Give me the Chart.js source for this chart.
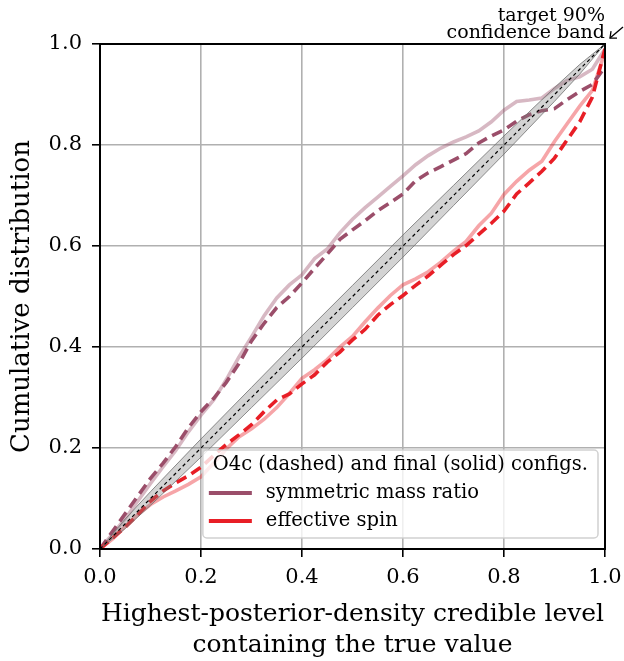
<!DOCTYPE html>
<html>
<head>
<meta charset="utf-8">
<script src="https://cdn.jsdelivr.net/npm/chart.js@4.4.1/dist/chart.umd.min.js"></script>
<style>
html,body{margin:0;padding:0;background:#ffffff;}
#wrap{width:624px;height:661px;position:relative;}
</style>
</head>
<body>
<div id="wrap"><canvas id="c" width="624" height="661"></canvas></div>
<script>
// ---------- data ----------
const credibleLevel = [0, 0.025, 0.05, 0.075, 0.1, 0.125, 0.15, 0.175, 0.2, 0.225,
  0.25, 0.275, 0.3, 0.325, 0.35, 0.375, 0.4, 0.425, 0.45, 0.475,
  0.5, 0.525, 0.55, 0.575, 0.6, 0.625, 0.65, 0.675, 0.7, 0.725,
  0.75, 0.775, 0.8, 0.825, 0.85, 0.875, 0.9, 0.925, 0.95, 0.975, 1.0];

// symmetric mass ratio, O4c config (dashed)
const etaO4c = [0, 0.035, 0.07, 0.105, 0.14, 0.17, 0.203, 0.24, 0.272, 0.298,
  0.33, 0.367, 0.412, 0.447, 0.478, 0.5, 0.527, 0.556, 0.584, 0.613,
  0.632, 0.65, 0.67, 0.686, 0.703, 0.729, 0.745, 0.757, 0.77, 0.783,
  0.804, 0.818, 0.83, 0.847, 0.86, 0.868, 0.872, 0.89, 0.906, 0.92, 0.955];

// symmetric mass ratio, final config (solid)
const etaFinal = [0, 0.03, 0.06, 0.095, 0.13, 0.163, 0.195, 0.232, 0.265, 0.295,
  0.335, 0.38, 0.42, 0.462, 0.497, 0.523, 0.543, 0.575, 0.594, 0.626,
  0.653, 0.676, 0.697, 0.718, 0.739, 0.761, 0.779, 0.794, 0.806, 0.816,
  0.828, 0.846, 0.869, 0.886, 0.889, 0.893, 0.912, 0.928, 0.935, 0.95, 0.99];

// effective spin, O4c config (dashed)
const chiO4c = [0, 0.022, 0.043, 0.068, 0.095, 0.115, 0.131, 0.145, 0.162, 0.185,
  0.207, 0.226, 0.246, 0.272, 0.295, 0.307, 0.327, 0.345, 0.37, 0.39,
  0.414, 0.435, 0.463, 0.484, 0.502, 0.522, 0.541, 0.562, 0.583, 0.601,
  0.623, 0.645, 0.669, 0.703, 0.725, 0.748, 0.774, 0.81, 0.846, 0.895, 0.99];

// effective spin, final config (solid)
const chiFinal = [0, 0.02, 0.045, 0.068, 0.088, 0.103, 0.115, 0.128, 0.143, 0.17,
  0.198, 0.222, 0.238, 0.257, 0.28, 0.308, 0.338, 0.355, 0.375, 0.4,
  0.421, 0.45, 0.477, 0.502, 0.523, 0.535, 0.549, 0.568, 0.59, 0.609,
  0.64, 0.665, 0.702, 0.728, 0.75, 0.768, 0.807, 0.842, 0.877, 0.908, 0.985];

// target 90% confidence band
const bandLevel = [0, 0.05, 0.1, 0.2, 0.3, 0.4, 0.5, 0.6, 0.7, 0.8, 0.9, 0.95, 1];
const bandLower = [0, 0.0405, 0.0865, 0.182, 0.280, 0.378, 0.478, 0.578, 0.680, 0.782, 0.8865, 0.9405, 1];
const bandUpper = [0, 0.0595, 0.1135, 0.218, 0.320, 0.422, 0.522, 0.622, 0.720, 0.818, 0.9135, 0.9595, 1];

// diagonal
const diagLevel = [0, 1];
const diagValue = [0, 1];

const tickValues = [0, 0.2, 0.4, 0.6, 0.8, 1.0];
const tickLabels = ['0.0', '0.2', '0.4', '0.6', '0.8', '1.0'];

const xTitle = ['Highest-posterior-density credible level', 'containing the true value'];
const yTitle = 'Cumulative distribution';
const legendTitle = 'O4c (dashed) and final (solid) configs.';
const legendNames = ['symmetric mass ratio', 'effective spin'];
const annotationLines = ['target 90%', 'confidence band'];

// ---------- styling ----------
const FONT = '"DejaVu Serif", "Liberation Serif", serif';
const etaColor = 'rgb(155,78,106)';
const etaLight = 'rgba(155,78,106,0.4)';
const chiColor = 'rgb(232,30,38)';
const chiLight = 'rgba(232,30,38,0.4)';

function pts(xs, ys) { return xs.map((x, i) => ({x: x, y: ys[i]})); }

const frameAndAnnotation = {
  id: 'frameAndAnnotation',
  afterDatasetsDraw(chart) {
    const {ctx, chartArea: a} = chart;
    ctx.save();
    ctx.strokeStyle = '#000';
    ctx.lineWidth = 2;
    ctx.strokeRect(a.left, a.top, a.right - a.left, a.bottom - a.top);
    ctx.restore();
  },
  afterDraw(chart) {
    const {ctx, chartArea: a} = chart;
    ctx.save();
    // annotation text
    ctx.font = '19px ' + FONT;
    ctx.fillStyle = '#000';
    ctx.textAlign = 'right';
    ctx.textBaseline = 'alphabetic';
    ctx.fillText(annotationLines[0], a.right, a.top - 23);
    ctx.fillText(annotationLines[1], a.right, a.top - 6);
    // arrow
    const tx = a.right + 18, ty = a.top - 17, hx = a.right + 5, hy = a.top - 6;
    ctx.strokeStyle = '#000';
    ctx.lineWidth = 1.3;
    ctx.beginPath(); ctx.moveTo(tx, ty); ctx.lineTo(hx, hy); ctx.stroke();
    const ang = Math.atan2(ty - hy, tx - hx);
    const L = 7, spread = 0.72;
    ctx.beginPath();
    ctx.moveTo(hx + L * Math.cos(ang + spread), hy + L * Math.sin(ang + spread));
    ctx.lineTo(hx, hy);
    ctx.lineTo(hx + L * Math.cos(ang - spread), hy + L * Math.sin(ang - spread));
    ctx.stroke();

    // legend (inside, lower right)
    ctx.font = '19.5px ' + FONT;
    const titleW = ctx.measureText(legendTitle).width;
    const w = titleW + 20, h = 88;
    const x0 = a.right - 7 - w, y0 = a.bottom - 11 - h;
    ctx.beginPath();
    if (ctx.roundRect) ctx.roundRect(x0, y0, w, h, 4); else ctx.rect(x0, y0, w, h);
    ctx.fillStyle = 'rgba(255,255,255,0.8)';
    ctx.fill();
    ctx.strokeStyle = 'rgba(204,204,204,0.9)';
    ctx.lineWidth = 1.5;
    ctx.stroke();
    ctx.fillStyle = '#000';
    ctx.textBaseline = 'middle';
    ctx.textAlign = 'center';
    ctx.fillText(legendTitle, x0 + w / 2, y0 + 15);
    const cols = [etaColor, chiColor];
    ctx.textAlign = 'left';
    for (let i = 0; i < 2; i++) {
      const yy = y0 + 43 + i * 28;
      ctx.strokeStyle = cols[i];
      ctx.lineWidth = 4;
      ctx.beginPath(); ctx.moveTo(x0 + 6, yy); ctx.lineTo(x0 + 49, yy); ctx.stroke();
      ctx.fillText(legendNames[i], x0 + 63, yy);
    }
    ctx.restore();
  }
};

const lineBase = {pointRadius: 0, pointHoverRadius: 0, tension: 0, fill: false, borderWidth: 3.6};

new Chart(document.getElementById('c'), {
  type: 'line',
  data: {
    datasets: [
      Object.assign({}, lineBase, {label: 'eta final', data: pts(credibleLevel, etaFinal), borderColor: etaLight, order: 13}),
      Object.assign({}, lineBase, {label: 'chi final', data: pts(credibleLevel, chiFinal), borderColor: chiLight, order: 12}),
      Object.assign({}, lineBase, {label: 'eta O4c', data: pts(credibleLevel, etaO4c), borderColor: etaColor, borderDash: [11, 6], order: 11}),
      Object.assign({}, lineBase, {label: 'chi O4c', data: pts(credibleLevel, chiO4c), borderColor: chiColor, borderDash: [11, 6], order: 10}),
      {label: 'band lower', data: pts(bandLevel, bandLower), borderColor: 'rgba(110,110,110,0.8)', borderWidth: 1, pointRadius: 0, tension: 0, fill: false, order: 3},
      {label: 'band upper', data: pts(bandLevel, bandUpper), borderColor: 'rgba(110,110,110,0.8)', borderWidth: 1, pointRadius: 0, tension: 0,
        fill: {target: 4}, backgroundColor: 'rgba(128,128,128,0.35)', order: 2},
      {label: 'diagonal', data: pts(diagLevel, diagValue), borderColor: '#000', borderWidth: 1.2, borderDash: [3.5, 3], pointRadius: 0, tension: 0, fill: false, order: 1}
    ]
  },
  options: {
    responsive: false,
    animation: false,
    events: [],
    layout: {padding: {top: 44, right: 19, bottom: 0, left: 0}},
    plugins: {legend: {display: false}, tooltip: {enabled: false}, title: {display: false}},
    scales: {
      x: {
        type: 'linear', min: 0, max: 1,
        afterFit: (s) => { s.height = 112; s.paddingLeft = 0; s.paddingRight = 0; },
        afterBuildTicks: (s) => { s.ticks = tickValues.map(v => ({value: v})); },
        ticks: {font: {family: FONT, size: 21}, color: '#000', padding: 8,
          callback: (v) => tickLabels[tickValues.findIndex(t => Math.abs(t - v) < 1e-9)], maxRotation: 0},
        grid: {color: '#b0b0b0', lineWidth: 1.6, tickColor: '#000', tickLength: 8, tickWidth: 1.6},
        border: {display: true, color: '#000', width: 2},
        title: {display: true, text: xTitle, color: '#000', font: {family: FONT, size: 25, lineHeight: '31px'}, padding: {top: 0, bottom: 0}}
      },
      y: {
        type: 'linear', min: 0, max: 1,
        afterFit: (s) => { s.width = 100; s.paddingTop = 0; s.paddingBottom = 0; },
        afterBuildTicks: (s) => { s.ticks = tickValues.map(v => ({value: v})); },
        ticks: {font: {family: FONT, size: 21}, color: '#000', padding: 10,
          callback: (v) => tickLabels[tickValues.findIndex(t => Math.abs(t - v) < 1e-9)]},
        grid: {color: '#b0b0b0', lineWidth: 1.6, tickColor: '#000', tickLength: 8, tickWidth: 1.6},
        border: {display: true, color: '#000', width: 2},
        title: {display: true, text: yTitle, color: '#000', font: {family: FONT, size: 26, lineHeight: 1.2}, padding: {top: 7, bottom: 0}}
      }
    }
  },
  plugins: [frameAndAnnotation]
});
</script>
</body>
</html>
